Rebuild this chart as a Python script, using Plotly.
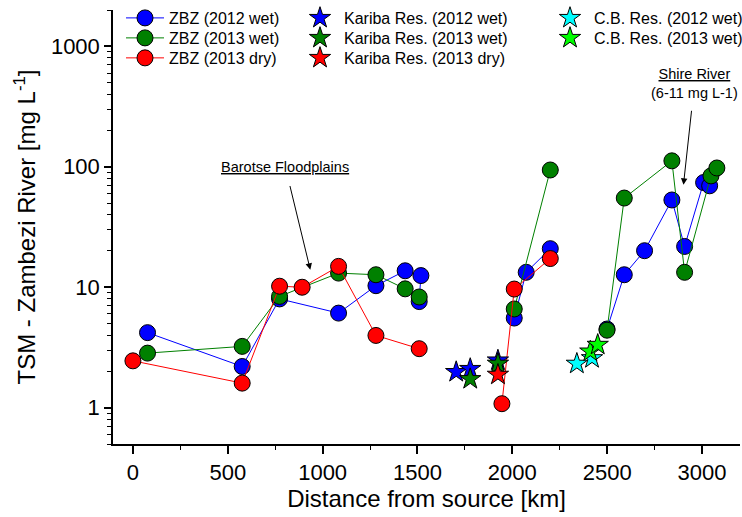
import plotly.graph_objects as go

# ---- data ----
zbz12_x = [77, 576, 773, 1084, 1281, 1435, 1518, 1509, None, 2010, 2073, 2200, None,
           2499, 2590, 2697, 2841, 2908, 3008, 3040]
zbz12_y = [4.2, 2.2, 8.0, 6.1, 10.3, 13.7, 12.5, 7.6, None, 5.55, 13.3, 20.9, None,
           4.5, 12.7, 20.1, 53, 21.8, 74, 69.5]

zbz13w_x = [77, 576, 773, 1084, 1281, 1435, 1509, None, 2010, 2200, None,
            2499, 2590, 2841, 2908, 3047, 3078]
zbz13w_y = [2.84, 3.23, 8.4, 13.1, 12.7, 9.7, 8.3, None, 6.6, 94, None,
            4.4, 55, 112, 13.3, 84, 97.7]

zbz13d_x = [0, 576, 773, 892, 1084, 1281, 1509, None, 1945, 2010, 2200]
zbz13d_y = [2.45, 1.6, 10.2, 10.0, 14.9, 3.98, 3.09, None, 1.08, 9.66, 17.3]

kar12_x = [1704, 1778, 1924]
kar12_y = [1.98, 2.1, 2.47]
kar13w_x = [1778, 1924]
kar13w_y = [1.73, 2.32]
kar13d_x = [1924]
kar13d_y = [1.88]

cb12_x = [2340, 2420]
cb12_y = [2.32, 2.58]
cb13w_x = [2411, 2450]
cb13w_y = [2.93, 3.33]

x_ticks = [0, 500, 1000, 1500, 2000, 2500, 3000]
y_ticks = [1, 10, 100, 1000]
y_ticktext = ["1", "10", "100", "1000"]

FONT = "Liberation Sans, Arial, sans-serif"
BLUE, GREEN, RED, CYAN, LIME = "#0000FF", "#008000", "#FF0000", "#00FFFF", "#00FF00"

fig = go.Figure()


def line_trace(x, y, color, name, legend):
    return go.Scatter(
        x=x, y=y, mode="lines+markers", name=name, legend=legend, showlegend=True,
        line=dict(color=color, width=1),
        marker=dict(symbol="circle", size=16, color=color,
                    line=dict(color="black", width=1)),
        connectgaps=False,
    )


def star_trace(x, y, color, name, legend):
    return go.Scatter(
        x=x, y=y, mode="markers", name=name, legend=legend, showlegend=True,
        marker=dict(symbol="star", size=16, color=color,
                    line=dict(color="black", width=1)),
    )


fig.add_trace(line_trace(zbz12_x, zbz12_y, BLUE, "ZBZ (2012 wet)", "legend"))
fig.add_trace(line_trace(zbz13w_x, zbz13w_y, GREEN, "ZBZ (2013 wet)", "legend2"))
fig.add_trace(line_trace(zbz13d_x, zbz13d_y, RED, "ZBZ (2013 dry)", "legend3"))
fig.add_trace(star_trace(kar12_x, kar12_y, BLUE, "Kariba Res. (2012 wet)", "legend4"))
fig.add_trace(star_trace(kar13w_x, kar13w_y, GREEN, "Kariba Res. (2013 wet)", "legend5"))
fig.add_trace(star_trace(kar13d_x, kar13d_y, RED, "Kariba Res. (2013 dry)", "legend6"))
fig.add_trace(star_trace(cb12_x, cb12_y, CYAN, "C.B. Res. (2012 wet)", "legend7"))
fig.add_trace(star_trace(cb13w_x, cb13w_y, LIME, "C.B. Res. (2013 wet)", "legend8"))


def leg(xp, yp):
    # xp: pixel position of legend left edge, yp: pixel row centre
    return dict(
        visible=True,
        font=dict(family=FONT, size=16, color="black"),
        bgcolor="rgba(0,0,0,0)", borderwidth=0,
        x=(xp - 113) / 627, xanchor="left",
        y=1 - (yp - 10) / 434.3, yanchor="middle",
        itemwidth=38, itemsizing="trace",
    )


col_x = [121, 296, 546]
row_y = [18, 38, 58]

fig.update_layout(
    width=742, height=517,
    showlegend=True,
    margin=dict(l=113, r=2, t=10, b=73, autoexpand=False),
    paper_bgcolor="white", plot_bgcolor="white",
    font=dict(family=FONT, color="black"),
    legend=leg(col_x[0], row_y[0]),
    legend2=leg(col_x[0], row_y[1]),
    legend3=leg(col_x[0], row_y[2]),
    legend4=leg(col_x[1], row_y[0]),
    legend5=leg(col_x[1], row_y[1]),
    legend6=leg(col_x[1], row_y[2]),
    legend7=leg(col_x[2], row_y[0]),
    legend8=leg(col_x[2], row_y[1]),
    xaxis=dict(
        range=[-105, 3200], showline=True, linecolor="black", linewidth=1.5,
        showgrid=False, zeroline=False, ticks="outside", ticklen=8, tickwidth=1.5,
        tickcolor="black", tickvals=x_ticks, automargin=False,
        tickfont=dict(family=FONT, size=22, color="black"),
        minor=dict(ticks="outside", ticklen=4, tickwidth=1.2, tickcolor="black", dtick=250, showgrid=False),
        title=dict(text="Distance from source [km]", font=dict(family=FONT, size=24, color="black"), standoff=6),
    ),
    yaxis=dict(
        type="log", range=[-0.30103, 3.30103], showline=True, linecolor="black", linewidth=1.5,
        showgrid=False, zeroline=False, ticks="outside", ticklen=7, tickwidth=1.5,
        tickcolor="black", tickvals=y_ticks, ticktext=y_ticktext, automargin=False,
        tickfont=dict(family=FONT, size=22, color="black"),
        minor=dict(ticks="outside", ticklen=4, tickwidth=1.2, tickcolor="black", dtick="D1", showgrid=False),
        title=dict(text="TSM - Zambezi River [mg L<sup>-1</sup>]", font=dict(family=FONT, size=24, color="black"), standoff=8),
    ),
)

# annotations (text with arrow pointing at the tip)
fig.add_annotation(x=935, y=1.145, xref="x", yref="y", text="<u>Barotse Floodplains</u>",
                   showarrow=True, ax=-25, ay=-103, startstandoff=10,
                   arrowhead=2, arrowsize=1.3, arrowwidth=1, arrowcolor="black",
                   font=dict(family=FONT, size=14.5, color="black"))
fig.add_annotation(x=2902, y=1.85, xref="x", yref="y",
                   text="<u>Shire River</u><br>(6-11 mg L-1)",
                   showarrow=True, ax=11, ay=-101, startstandoff=8,
                   arrowhead=2, arrowsize=1.3, arrowwidth=1, arrowcolor="black",
                   font=dict(family=FONT, size=14.5, color="black"))

fig.write_html("out.html")
